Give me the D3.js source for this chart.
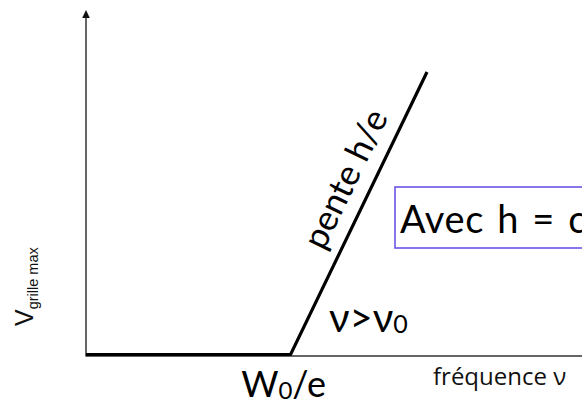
<!DOCTYPE html>
<html>
<head>
<meta charset="utf-8">
<script src="https://cdn.jsdelivr.net/npm/d3@7"></script>
<style>
  html, body { margin: 0; padding: 0; background: #fff; }
  svg { display: block; }
</style>
</head>
<body>
<div id="chart"></div>
<script>
// Data: threshold curve V(grille max) vs frequency (arbitrary units)
const freq = [0, 4.95, 8.25];
const vGrille = [0, 0, 8.25];
const xDomain = [0, 12];
const yDomain = [0, 10];

const W = 582, H = 405;
const mainFont = "Lato, 'Open Sans', sans-serif";

const svg = d3.select("#chart").append("svg")
  .attr("width", W)
  .attr("height", H);

const x = d3.scaleLinear().domain(xDomain).range([86, 582]);
const y = d3.scaleLinear().domain(yDomain).range([354.5, 12]);

// Axes (plain lines, arrow on vertical one)
svg.append("line")
  .attr("x1", x(0)).attr("x2", W)
  .attr("y1", y(0) + 1.5).attr("y2", y(0) + 1.5)
  .attr("stroke", "#333").attr("stroke-width", 1.5);

svg.append("line")
  .attr("x1", x(0)).attr("x2", x(0))
  .attr("y1", y(0) + 2).attr("y2", 16)
  .attr("stroke", "#333").attr("stroke-width", 1.5);

svg.append("path")
  .attr("d", `M${x(0)},10 L${x(0) - 3.8},18 L${x(0) + 3.8},18 Z`)
  .attr("fill", "#111");

// Curve
const pts = freq.map((f, i) => [x(f), y(vGrille[i])]);
svg.append("path")
  .attr("d", d3.line()(pts))
  .attr("fill", "none")
  .attr("stroke", "#000")
  .attr("stroke-width", 3.2)
  .attr("stroke-linejoin", "miter");

// Slope label along the rising segment
const [p1, p2] = [pts[1], pts[2]];
const ang = Math.atan2(p2[1] - p1[1], p2[0] - p1[0]);
const t = 0.58, off = 15;
const mx = p1[0] + t * (p2[0] - p1[0]) + off * Math.sin(ang);
const my = p1[1] + t * (p2[1] - p1[1]) - off * Math.cos(ang);
svg.append("text")
  .attr("transform", `translate(${mx},${my}) rotate(${ang * 180 / Math.PI})`)
  .attr("text-anchor", "middle")
  .attr("font-family", mainFont)
  .attr("font-size", 35)
  .text("pente h/e");

// nu > nu0
const nuLabel = svg.append("text")
  .attr("x", 329).attr("y", 332)
  .attr("font-family", mainFont)
  .attr("font-size", 40);
nuLabel.append("tspan").text("ν>ν");
nuLabel.append("tspan").attr("font-size", 25).attr("dy", 1).text("0");

// W0/e under the threshold
const wLabel = svg.append("text")
  .attr("x", x(freq[1]) - 7).attr("y", 397)
  .attr("text-anchor", "middle")
  .attr("font-family", mainFont)
  .attr("font-size", 36);
wLabel.append("tspan").text("W");
wLabel.append("tspan").attr("font-size", 24).attr("dy", 2).text("0");
wLabel.append("tspan").attr("dy", -2).text("/e");

// Axis titles
svg.append("text")
  .attr("x", 433).attr("y", 385)
  .attr("font-family", "'Open Sans', sans-serif")
  .attr("font-size", 24)
  .attr("fill", "#111")
  .text("fréquence ν");

const yTitle = svg.append("text")
  .attr("transform", "translate(33,326) rotate(-90)")
  .attr("font-family", "'Liberation Sans', Arial, sans-serif")
  .attr("font-size", 25)
  .attr("fill", "#111");
yTitle.append("tspan").text("V");
yTitle.append("tspan").attr("font-size", 14.5).attr("dy", 5).text("grille max");

// Note box (runs off the right edge, as in the original slide)
svg.append("rect")
  .attr("x", 395).attr("y", 187)
  .attr("width", 320).attr("height", 61)
  .attr("fill", "#fff")
  .attr("stroke", "#6b55e6")
  .attr("stroke-width", 1.6);

svg.append("text")
  .attr("x", 400).attr("y", 233)
  .attr("font-family", mainFont)
  .attr("font-size", 38)
  .attr("letter-spacing", 0.6)
  .attr("word-spacing", 3)
  .text("Avec h = c");
</script>
</body>
</html>
